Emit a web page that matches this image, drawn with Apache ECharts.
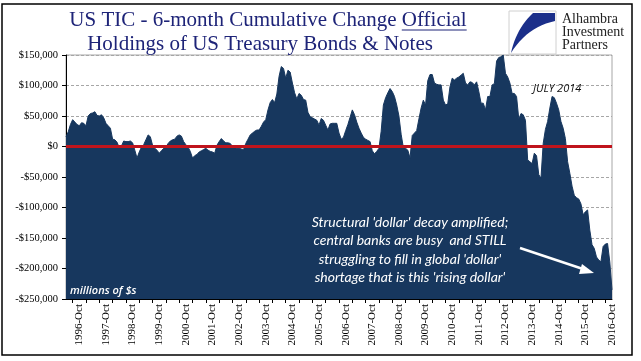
<!DOCTYPE html>
<html>
<head>
<meta charset="utf-8">
<script src="https://cdn.jsdelivr.net/npm/echarts@6/dist/echarts.min.js"></script>
<style>
html,body{margin:0;padding:0;background:#fff;}
#c{width:641px;height:361px;}
</style>
</head>
<body>
<div id="c"></div>
<script>
// ---- data ----
const startYear = 1996;
const startMonthIndex = 3; // April
const monthNames = ['Jan','Feb','Mar','Apr','May','Jun','Jul','Aug','Sep','Oct','Nov','Dec'];
const yTicks = [-250000,-200000,-150000,-100000,-50000,0,50000,100000,150000];
// 6-month cumulative change, millions of $ (monthly, from 1996-Apr)
const values = [
 16000, 24000, 36000, 44000, 40000, 36000, 34000, 39000, 38000, 34000, 50000, 54000,
 55000, 57000, 51000, 50000, 52000, 47000, 38000, 34000, 30000, 12000, 11000, 7000,
 -2000, 1000, 9000, 8000, 8000, 9000, 6000, -6000, -19000, -9000, -1000, 3000,
 11000, 19000, 16000, 2000, -3000, -6000, -11000, -7000, -3000, -1000, 5000, 9000,
 11000, 12000, 17000, 19000, 17000, 8000, 3000, -1000, -8000, -19000, -15000, -13000,
 -9000, -7000, -5000, -3000, -6000, -8000, -9000, -11000, 2000, 8000, 13000, 9000,
 6000, 6000, 5000, 0, -2000, -3000, -3000, -4000, -5000, 5000, 12000, 19000,
 22000, 25000, 27000, 27000, 33000, 40000, 44000, 60000, 72000, 77000, 72000, 86000,
 115000, 131000, 128000, 112000, 125000, 122000, 104000, 88000, 78000, 87000, 84000, 77000,
 76000, 56000, 49000, 47000, 45000, 43000, 35000, 46000, 43000, 35000, 27000, 37000,
 38000, 38000, 38000, 22000, 12000, 15000, 26000, 36000, 48000, 60000, 52000, 40000,
 30000, 22000, 15000, 12000, 10000, 8000, -7000, -12000, -8000, -3000, 25000, 68000,
 80000, 88000, 95000, 90000, 82000, 68000, 50000, 20000, -2000, -3000, -6000, -19000,
 18000, 22000, 26000, 45000, 63000, 76000, 68000, 108000, 118000, 118000, 104000, 102000,
 101000, 101000, 76000, 68000, 70000, 98000, 112000, 109000, 112000, 114000, 117000, 120000,
 104000, 101000, 106000, 105000, 101000, 106000, 90000, 71000, 71000, 60000, 82000, 82000,
 101000, 103000, 140000, 146000, 147000, 150000, 120000, 114000, 104000, 87000, 87000, 82000,
 45000, 54000, 52000, 43000, -22000, -25000, -28000, -11000, -15000, -46000, -52000, 5000,
 28000, 41000, 63000, 82000, 80000, 71000, 60000, 41000, 30000, 13000, -25000, -44000,
 -65000, -80000, -84000, -86000, -94000, -112000, -107000, -104000, -137000, -161000, -167000, -181000,
 -186000, -189000, -164000, -160000, -159000, -189000, -235000
];
const categories = [];
for (let i = 0; i < values.length; i++) {
  const m = startMonthIndex + i;
  categories.push((startYear + Math.floor(m / 12)) + '-' + monthNames[m % 12]);
}
const titleLine1 = 'US TIC - 6-month Cumulative Change ';
const titleUnderlined = 'Official';
const titleLine2 = 'Holdings of US Treasury Bonds & Notes';
const noteLines = [
  "Structural 'dollar' decay amplified;",
  "central banks are busy  and STILL",
  "struggling to fill in global 'dollar'",
  "shortage that is this 'rising dollar'"
];

// ---- layout helpers ----
const titleFont = '21px "Liberation Serif"';
const cv = document.createElement('canvas').getContext('2d');
cv.font = titleFont;
const w1a = cv.measureText(titleLine1).width;
const w1b = cv.measureText(titleUnderlined).width;
const t1cx = 268, t1y = 20;
const t1left = t1cx - (w1a + w1b) / 2;

function money(v) {
  const s = Math.abs(v).toString().replace(/\B(?=(\d{3})+(?!\d))/g, ',');
  return (v < 0 ? '-$' : '$') + s;
}
function quad(p0, c, p1, n) {
  const pts = [];
  for (let k = 0; k <= n; k++) {
    const t = k / n, u = 1 - t;
    pts.push([u*u*p0[0] + 2*u*t*c[0] + t*t*p1[0], u*u*p0[1] + 2*u*t*c[1] + t*t*p1[1]]);
  }
  return pts;
}
const logoPts = [[533, 13], [555, 13]]
  .concat(quad([555, 21], [527, 27], [511, 53], 12))
  .concat(quad([511, 53], [516, 29], [533, 13], 12).slice(1));

const navy = '#17375E';
const chart = echarts.init(document.getElementById('c'), null, {renderer: 'canvas'});
chart.setOption({
  animation: false,
  backgroundColor: '#fff',
  grid: {left: 66, right: 29, top: 55, bottom: 62, show: true, borderColor: '#A6A6A6', borderWidth: 1, backgroundColor: 'transparent'},
  xAxis: {
    type: 'category',
    data: categories,
    boundaryGap: false,
    axisLine: {onZero: false, lineStyle: {color: '#000', width: 1}},
    axisTick: {show: true, length: 4, interval: (i, v) => /-(Jan|Jul)$/.test(v), lineStyle: {color: '#000'}},
    axisLabel: {interval: (i, v) => /-Oct$/.test(v), rotate: 90, fontFamily: '"Liberation Serif"', fontSize: 11, color: '#000', margin: 5},
    splitLine: {show: false}
  },
  yAxis: {
    type: 'value',
    min: yTicks[0], max: yTicks[yTicks.length - 1], interval: 50000,
    axisLine: {show: true, lineStyle: {color: '#000', width: 1}},
    axisTick: {show: true, length: 4, lineStyle: {color: '#000'}},
    axisLabel: {formatter: money, fontFamily: '"Liberation Serif"', fontSize: 10.5, color: '#000', margin: 8},
    splitLine: {show: true, lineStyle: {color: '#A6A6A6', type: [3, 2], width: 1}}
  },
  series: [{
    type: 'line',
    data: values,
    symbol: 'none',
    sampling: 'none',
    lineStyle: {color: navy, width: 1},
    areaStyle: {color: navy, opacity: 1, origin: 'start'},
    z: 2,
    markLine: {
      silent: true, symbol: 'none', animation: false,
      label: {show: false},
      lineStyle: {color: '#C0141C', width: 3, type: 'solid'},
      data: [{yAxis: 0}]
    }
  }],
  graphic: [
    {type: 'rect', shape: {x: 2, y: 4, width: 630, height: 351}, style: {fill: 'none', stroke: '#000', lineWidth: 1.5}, z: 10},
    {type: 'text', style: {text: titleLine1 + titleUnderlined, x: t1left, y: t1y, font: titleFont, fill: '#1E2478', textAlign: 'left', textVerticalAlign: 'middle'}, z: 10},
    {type: 'line', shape: {x1: t1left + w1a, y1: t1y + 10, x2: t1left + w1a + w1b, y2: t1y + 10}, style: {stroke: '#1E2478', lineWidth: 1}, z: 10},
    {type: 'text', style: {text: titleLine2, x: 260, y: 44, font: titleFont, fill: '#1E2478', textAlign: 'center', textVerticalAlign: 'middle'}, z: 10},
    // logo
    {type: 'rect', shape: {x: 509, y: 11, width: 47, height: 43}, style: {fill: '#fff', stroke: '#D0D0D0', lineWidth: 1}, z: 10},
    {type: 'polygon', shape: {points: logoPts}, style: {fill: '#1B2F8A'}, z: 11},
    {type: 'text', style: {text: 'Alhambra', x: 562, y: 19, font: '14px "Liberation Serif"', fill: '#222', textVerticalAlign: 'middle'}, z: 10},
    {type: 'text', style: {text: 'Investment', x: 562, y: 32, font: '14px "Liberation Serif"', fill: '#222', textVerticalAlign: 'middle'}, z: 10},
    {type: 'text', style: {text: 'Partners', x: 562, y: 45, font: '14px "Liberation Serif"', fill: '#222', textVerticalAlign: 'middle'}, z: 10},
    // annotations
    {type: 'text', style: {text: 'JULY 2014', x: 533, y: 89, font: 'italic 11px "Open Sans"', fill: '#111', textVerticalAlign: 'middle'}, z: 10},
    {type: 'text', style: {text: 'millions of $s', x: 70, y: 291, font: 'italic 600 11px "Open Sans"', fill: '#fff', textVerticalAlign: 'middle'}, z: 10},
    {type: 'text', style: {text: noteLines[0], x: 410, y: 222, font: 'italic 14px Lato', fill: '#fff', textAlign: 'center', textVerticalAlign: 'middle'}, z: 10},
    {type: 'text', style: {text: noteLines[1], x: 410, y: 240.5, font: 'italic 14px Lato', fill: '#fff', textAlign: 'center', textVerticalAlign: 'middle'}, z: 10},
    {type: 'text', style: {text: noteLines[2], x: 410, y: 259, font: 'italic 14px Lato', fill: '#fff', textAlign: 'center', textVerticalAlign: 'middle'}, z: 10},
    {type: 'text', style: {text: noteLines[3], x: 410, y: 277, font: 'italic 14px Lato', fill: '#fff', textAlign: 'center', textVerticalAlign: 'middle'}, z: 10},
    {type: 'line', shape: {x1: 520, y1: 248, x2: 586, y2: 270}, style: {stroke: '#fff', lineWidth: 2.5}, z: 10},
    {type: 'polygon', shape: {points: [[594, 273], [582, 264], [579, 274]]}, style: {fill: '#fff'}, z: 10}
  ]
});
</script>
</body>
</html>
